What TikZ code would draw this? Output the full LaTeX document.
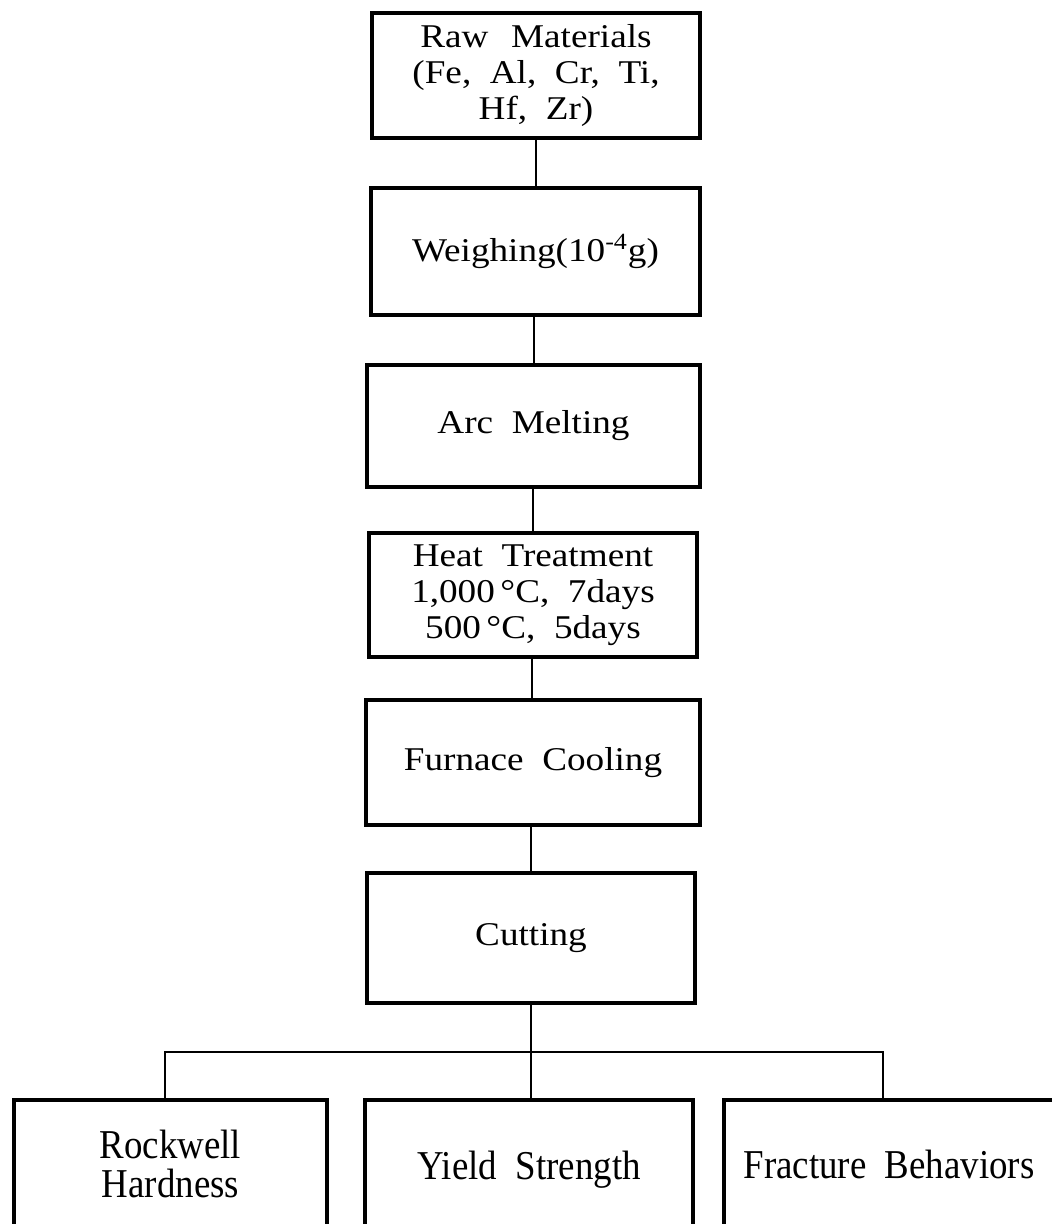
\documentclass[tikz,border=0pt]{standalone}
\usepackage{fontspec}
\setmainfont{Liberation Serif}[FakeStretch=1.12, WordSpace=2]
\newfontfamily\botfont{Liberation Serif}[FakeStretch=0.9, WordSpace=2]
\begin{document}
\begin{tikzpicture}[x=0.5pt,y=-0.5pt,
  box/.style={draw, line width=2pt, align=center, inner sep=0pt,
    font=\fontsize{16.6}{18}\selectfont},
  botbox/.style={draw, line width=2pt, align=center, inner sep=0pt,
    font=\botfont\fontsize{20.5}{19.5}\selectfont},
  conn/.style={line width=1pt}]
\useasboundingbox (0,0) rectangle (1052,1224);
\clip (0,0) rectangle (1052,1224);
\node[box, minimum width=164pt, minimum height=62.5pt] (raw) at (536,75.5)
  {Raw\hspace{2pt} Materials\\(Fe, Al, Cr, Ti,\\Hf, Zr)};
\node[box, minimum width=164.5pt, minimum height=63.5pt] (weigh) at (535.5,251.5)
  {Weighing(10\textsuperscript{-4}g)};
\node[box, minimum width=166.5pt, minimum height=61pt] (arc) at (533.5,426)
  {Arc Melting};
\node[box, minimum width=164pt, minimum height=62pt] (heat) at (533,595)
  {Heat Treatment\\1,000\,°C, 7days\\500\,°C, 5days};
\node[box, minimum width=167pt, minimum height=62.5pt] (furn) at (533,762.5)
  {Furnace Cooling};
\node[box, minimum width=164pt, minimum height=65pt] (cut) at (531,938)
  {Cutting};
\node[botbox, minimum width=156.5pt, minimum height=64pt] (rock) at (170.5,1164)
  {Rockwell\\Hardness};
\node[botbox, minimum width=164pt, minimum height=64pt, text height=20pt] (yield) at (529,1164)
  {Yield Strength};
\node[botbox, minimum width=165pt, minimum height=64pt] (frac) at (889,1164)
  {Fracture Behaviors};
\coordinate (split) at (531,1052);
\draw[conn] (raw.south -| 536,0) -- (weigh.north -| 536,0);
\draw[conn] (weigh.south -| 534,0) -- (arc.north -| 534,0);
\draw[conn] (arc.south -| 533,0) -- (heat.north -| 533,0);
\draw[conn] (heat.south -| 532,0) -- (furn.north -| 532,0);
\draw[conn] (furn.south -| 531,0) -- (cut.north -| 531,0);
\draw[conn] (cut.south) -- (split);
\draw[conn] (split) -- (yield.north -| split);
\draw[conn] (rock.north -| 165,0) |- (split) -| (frac.north -| 883,0);
\end{tikzpicture}
\end{document}
